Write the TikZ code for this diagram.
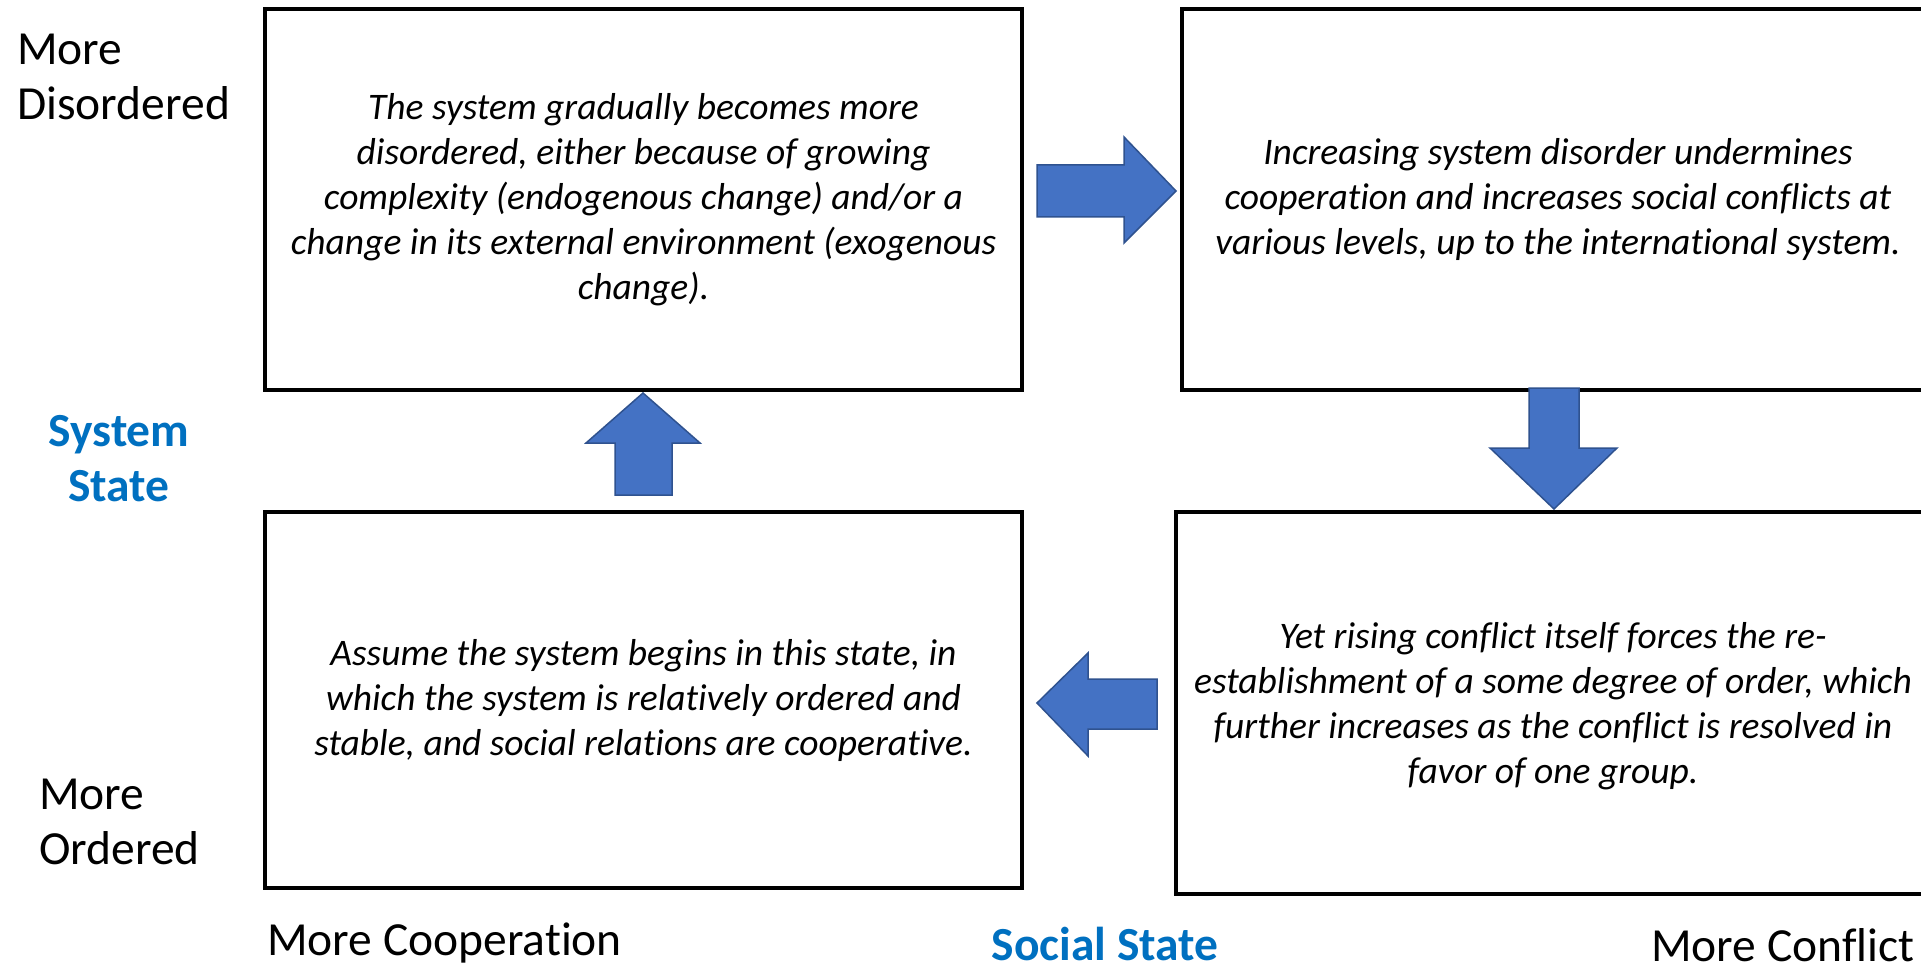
\documentclass[tikz,border=0pt]{standalone}
\usepackage{fontspec}
\setmainfont{Carlito}[Ligatures=NoCommon]
\definecolor{lblblue}{HTML}{0070C0}
\definecolor{arrfill}{HTML}{4472C4}
\definecolor{arrline}{HTML}{2F528F}
\begin{document}
\begin{tikzpicture}[x=1pt,y=-1pt,
  box/.style={draw=black,line width=4.5pt,inner sep=0pt},
  boxtext/.style={align=center,inner sep=0pt,font=\fontsize{37.5}{45}\selectfont\itshape},
  axislbl/.style={inner sep=0pt,align=left,font=\fontsize{47.5}{55}\selectfont},
  statelbl/.style={inner sep=0pt,align=center,text=lblblue,font=\fontsize{47.5}{55}\selectfont\bfseries},
  blockarrow/.style={fill=arrfill,draw=arrline,line width=1.5pt,line join=miter}]
\useasboundingbox (0,0) rectangle (1921,968);
\clip (0,0) rectangle (1921,968);
\fill[white] (0,0) rectangle (1921,968);
% boxes
\node[box,minimum width=757pt,minimum height=381pt] (tl) at (643.5,199.5) {};
\node[box,minimum width=752pt,minimum height=381pt] (tr) at (1558,199.5) {};
\node[box,minimum width=757pt,minimum height=376pt] (bl) at (643.5,700) {};
\node[box,minimum width=754pt,minimum height=382pt] (br) at (1553,703) {};
% box texts
\node[boxtext] (tlt) at (tl.center) {The system gradually becomes more\\disordered, either because of growing\\complexity (endogenous change) and/or a\\change in its external environment (exogenous\\change).};
\node[boxtext] (trt) at (tr.center) {Increasing system disorder undermines\\cooperation and increases social conflicts at\\various levels, up to the international system.};
\node[boxtext] (blt) at (bl.center) {Assume the system begins in this state, in\\which the system is relatively ordered and\\stable, and social relations are cooperative.};
\node[boxtext] (brt) at (1553,706) {Yet rising conflict itself forces the re-\\establishment of a some degree of order, which\\further increases as the conflict is resolved in\\favor of one group.};
% block arrows
\draw[blockarrow] (1037,165) -- (1124,165) -- (1124,137) -- (1176,191) -- (1124,243) -- (1124,217) -- (1037,217) -- cycle;
\draw[blockarrow] (1529,388) -- (1579,388) -- (1579,448) -- (1617,448) -- (1554,509) -- (1490,448) -- (1529,448) -- cycle;
\draw[blockarrow] (1157,679) -- (1088,679) -- (1088,653) -- (1037,703) -- (1088,756) -- (1088,729) -- (1157,729) -- cycle;
\draw[blockarrow] (615,495) -- (615,443) -- (586,443) -- (643,393) -- (700,443) -- (672,443) -- (672,495) -- cycle;
% axis labels
\node[axislbl,anchor=west] (disord) at (17,77) {More\\Disordered};
\node[statelbl] (sysstate) at (119,459) {System\\State};
\node[axislbl,anchor=west] (ord) at (39,822) {More\\Ordered};
\node[axislbl,anchor=base west] (coop) at (267,955) {More Cooperation};
\node[statelbl,anchor=base] (social) at (1105,960) {Social State};
\node[axislbl,anchor=base west] (confl) at (1651,961) {More Conflict};
\end{tikzpicture}
\end{document}
